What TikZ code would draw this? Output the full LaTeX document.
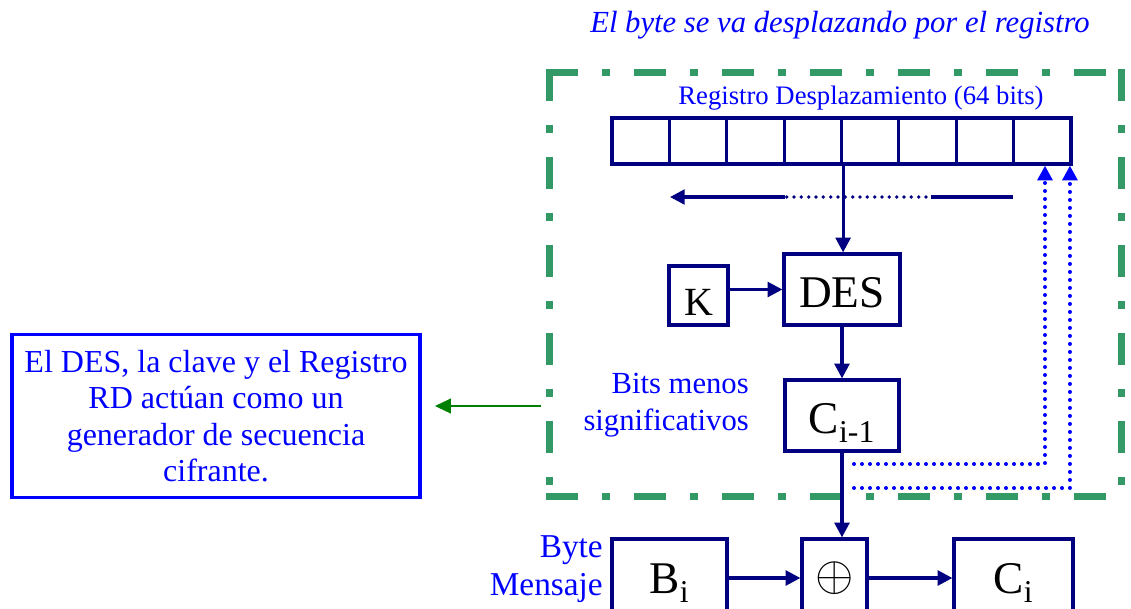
\documentclass[tikz,border=0pt]{standalone}
\usepackage{fontspec}
\setmainfont{Liberation Serif}
\usetikzlibrary{arrows.meta,calc}
\definecolor{regnavy}{HTML}{000080}
\definecolor{txtblue}{HTML}{0000FF}
\definecolor{framegreen}{HTML}{339966}
\definecolor{notegreen}{HTML}{008000}

\begin{document}
\begin{tikzpicture}[
  x=0.75pt,y=-0.75pt,
  block/.style={draw=regnavy,line width=2.4pt,rectangle,inner sep=0pt,align=center,fill=white},
  cell/.style={block,minimum width=43.03pt,minimum height=34.5pt},
  bigtext/.style={font=\fontsize{34}{34}\selectfont},
  bluetext/.style={text=txtblue,inner sep=0pt},
  arr/.style={-{Triangle[length=11pt,width=11pt]},line width=2.4pt,regnavy},
  feed/.style={-{Triangle[length=11pt,width=11pt]},line width=3pt,txtblue,line cap=round,dash pattern=on 0pt off 6pt},
  shiftline/.style={line width=2.4pt,regnavy},
  navydots/.style={line width=2.8pt,regnavy,line cap=round,dash pattern=on 0pt off 5.5pt},
  greenframe/.style={framegreen,line width=5.25pt,line cap=rect,dash pattern=on 18.75pt off 23.25pt on 0.75pt off 23.25pt},
  notearr/.style={-{Triangle[length=12pt,width=11pt]},line width=1.6pt,notegreen}
]
\clip (0,0) rectangle (1131,608);

% Title
\node[bluetext,font=\itshape\fontsize{23}{23}\selectfont] (title) at (840,25) {El byte se va desplazando por el registro};

% Frame round the generator
\node[inner sep=0pt,minimum width=428.25pt,minimum height=317.25pt] (frame) at (835.5,284.5) {};
\draw[greenframe] (frame.north west) -- (frame.south west);
\draw[greenframe] (frame.north west) -- (frame.north east);
\draw[greenframe] (frame.north east) -- (frame.south east);
\draw[greenframe] (frame.south west) -- (frame.south east);

% Shift register
\foreach \i in {1,...,8}
  \node[cell] (r\i) at ({612+57.375*(\i-0.5)},141) {};
\node[bluetext,font=\fontsize{20}{20}\selectfont] (reglabel) at (861,98) {Registro Desplazamiento (64 bits)};

% Shift direction
\coordinate (sh1) at (1013,197);
\coordinate (sh2) at (931,197);
\coordinate (sh3) at (926,197);
\coordinate (sh4) at (785,197);
\coordinate (sh5) at (670,197);

% Cipher blocks
\node[block,font=\fontsize{30}{30}\selectfont,minimum size=44.25pt,text height=29.7pt,text depth=0pt] (key) at (698.5,295.5) {K};
\node[block,bigtext,minimum width=87pt,minimum height=53.25pt,text height=27pt,text depth=0pt] (des) at (842,289.5) {DES};
\node[block,bigtext,minimum width=85.5pt,minimum height=53.25pt,text height=26.3pt,text depth=0pt] (cprev) at (842,415.5) {C\textsubscript{i-1}};
\node[bluetext,align=right,anchor=east,font=\fontsize{23}{27.4}\selectfont] (bitslabel) at (749,405) {Bits menos\\significativos};

% Note box
\node[draw=txtblue,line width=2.4pt,text=txtblue,align=center,minimum width=306pt,minimum height=122.25pt,inner sep=0pt,font=\fontsize{24}{27.4}\selectfont] (note) at (216,416) {El DES, la clave y el Registro\\RD actúan como un\\generador de secuencia\\cifrante.};
\coordinate (gstart) at (541,406);

% Message path
\node[block,bigtext,minimum width=86.25pt,minimum height=58.5pt,text height=22.5pt,text depth=0pt] (bi) at (669.5,578) {B\textsubscript{i}};
\node[block,minimum width=48.75pt,minimum height=58.5pt] (xor) at (834.5,578) {\scalebox{3.7}{$\oplus$}};
\node[block,bigtext,minimum width=89.25pt,minimum height=58.5pt,text height=22.5pt,text depth=0pt] (ci) at (1013.5,578) {C\textsubscript{i}};
\node[bluetext,align=right,anchor=east,font=\fontsize{25}{28.5}\selectfont] (bytelabel) at (603,569) {Byte\\Mensaje};

% Feedback points
\coordinate (fb1) at (854,464);
\coordinate (fb2) at (854,488);

% Arrows
\draw[shiftline] (sh1) -- (sh2);
\draw[navydots] (sh3) -- (sh4);
\draw[arr] (sh4) -- (sh5);
\draw[arr] (r4.south east) -- (r4.south east |- des.north);
\draw[arr] (key.east |- des) -- (des.west);
\draw[arr] (des) -- (cprev);
\draw[arr] (cprev.south) -- (cprev.south |- xor.north);
\draw[arr] (bi) -- (xor);
\draw[arr] (xor) -- (ci);
\draw[feed] (fb1) -| ([xshift=2pt]r8.south);
\draw[feed] (fb2) -| ([xshift=-2pt]r8.south east);
\draw[notearr,shorten >=10pt] (gstart) -- (gstart -| note.east);

\end{tikzpicture}
\end{document}
